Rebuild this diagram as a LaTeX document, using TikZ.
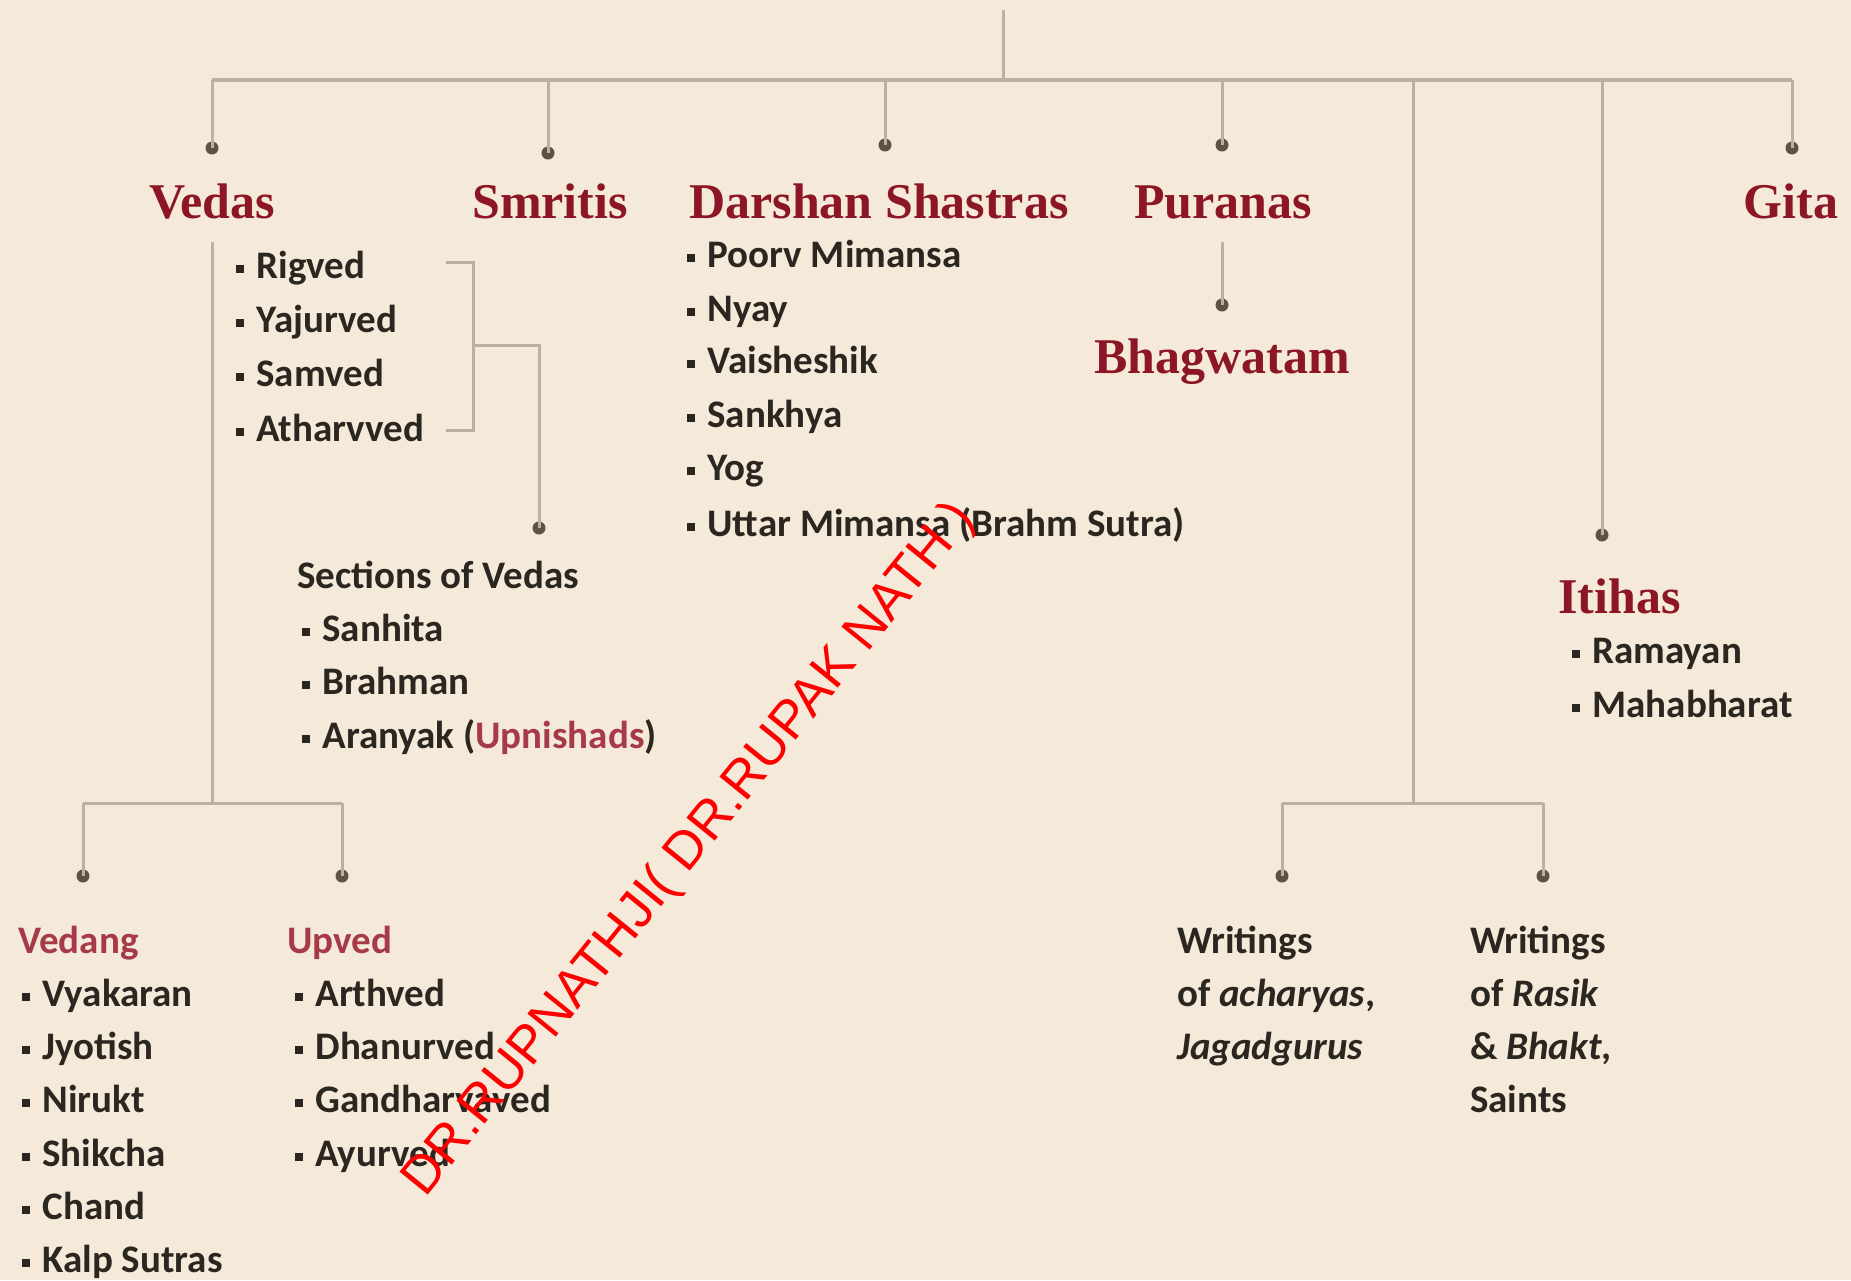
\documentclass[tikz,border=0pt]{standalone}
\usepackage{fontspec}
\setmainfont{Carlito}
\newfontfamily\headfont{Liberation Serif}
\newfontfamily\wmfont{Liberation Sans}
\definecolor{bg}{HTML}{F5EAD9}
\definecolor{ln}{HTML}{BDB09E}
\definecolor{dotc}{HTML}{5E5342}
\definecolor{head}{HTML}{8C1626}
\definecolor{subhead}{HTML}{A63A48}
\definecolor{body}{HTML}{2B2620}
\newcommand\bsq{\raisebox{0.14em}{\rule{0.2em}{0.2em}}\hspace{0.32em}}
\begin{document}
\begin{tikzpicture}[x=1pt,y=-1pt,
  conn/.style={draw=ln,line width=3pt},
  barline/.style={draw=ln,line width=4pt},
  jdot/.style={circle,fill=dotc,inner sep=0pt,minimum size=13pt},
  heading/.style={font=\headfont\bfseries\fontsize{50}{60}\selectfont,text=head,inner sep=0pt,anchor=base},
  item/.style={font=\bfseries\fontsize{39}{53}\selectfont,text=body,inner sep=0pt,anchor=base west},
  subh/.style={font=\bfseries\fontsize{39}{53}\selectfont,text=subhead,inner sep=0pt,anchor=base west}]
\fill[bg] (0,0) rectangle (1851,1280);
\useasboundingbox (0,0) rectangle (1851,1280);

% junctions
\coordinate (root) at (1003,10);
\coordinate (j0) at (1003,80);
\coordinate (vtop) at (212,242);
\coordinate (vj) at (212,803);
\coordinate (wj) at (1413,803);
\coordinate (ptop) at (1222,242);

% dots
\node[jdot] (dVedas) at (212,148) {};
\node[jdot] (dSmritis) at (548,153) {};
\node[jdot] (dDarshan) at (885,145) {};
\node[jdot] (dPuranas) at (1222,145) {};
\node[jdot] (dItihas) at (1602,535) {};
\node[jdot] (dGita) at (1792,148) {};
\node[jdot] (dBhag) at (1222,305) {};
\node[jdot] (dSect) at (539,528) {};
\node[jdot] (dVedang) at (83,876) {};
\node[jdot] (dUpved) at (342,876) {};
\node[jdot] (dAch) at (1282,876) {};
\node[jdot] (dRasik) at (1543,876) {};

% headings
\node[heading] (Vedas) at (212,218) {Vedas};
\node[heading] (Smritis) at (550,218) {Smritis};
\node[heading] (Darshan) at (879,218) {Darshan Shastras};
\node[heading] (Puranas) at (1223,218) {Puranas};
\node[heading] (Gita) at (1791,218) {Gita};
\node[heading] (Bhag) at (1222,373) {Bhagwatam};
\node[heading,anchor=base west] (Itihas) at (1558,613) {Itihas};

% connectors
\draw[conn] (root) -- (j0);
\draw[barline] (dVedas |- j0) -- (dGita |- j0);
\foreach \d in {dVedas,dSmritis,dDarshan,dPuranas,dItihas,dGita}{
  \draw[conn] (\d |- j0) -- (\d.center);
}
\draw[conn] (wj |- j0) -- (wj);
\draw[conn] (ptop) -- (dBhag.center);
\draw[conn] (vtop) -- (vj);
\draw[conn] (dVedang |- vj) -- (dUpved |- vj);
\draw[conn] (dVedang |- vj) -- (dVedang.center);
\draw[conn] (dUpved |- vj) -- (dUpved.center);
\draw[conn] (dAch |- wj) -- (dRasik |- wj);
\draw[conn] (dAch |- wj) -- (dAch.center);
\draw[conn] (dRasik |- wj) -- (dRasik.center);

% Vedas list
\node[item] (rig) at (236,278) {\bsq Rigved};
\node[item] (yaj) at (236,332) {\bsq Yajurved};
\node[item] (sam) at (236,386) {\bsq Samved};
\node[item] (ath) at (236,441) {\bsq Atharvved};
\coordinate (bt) at (473,262);
\coordinate (bb) at (473,430);
\coordinate (bm) at (473,345);
\draw[conn] (446,262) -- (bt) -- (bb) -- (446,430);
\draw[conn] (bm) -- (dSect |- bm) -- (dSect.center);

% Sections of Vedas
\node[item] (sect) at (297,588) {Sections of Vedas};
\node[item] (san) at (302,641) {\bsq Sanhita};
\node[item] (bra) at (302,694) {\bsq Brahman};
\node[item] (ara) at (302,748) {\bsq Aranyak (\textcolor{subhead}{Upnishads})};

% Darshan list
\node[item] (dar1) at (687,267) {\bsq Poorv Mimansa};
\node[item] (dar2) at (687,321) {\bsq Nyay};
\node[item] (dar3) at (687,373) {\bsq Vaisheshik};
\node[item] (dar4) at (687,427) {\bsq Sankhya};
\node[item] (dar5) at (687,480) {\bsq Yog};
\node[item] (dar6) at (687,536) {\bsq Uttar Mimansa (Brahm Sutra)};

% Itihas list
\node[item] (ram) at (1572,663) {\bsq Ramayan};
\node[item] (mah) at (1572,717) {\bsq Mahabharat};

% Vedang / Upved
\node[subh] (Vedang) at (18,953) {Vedang};
\node[subh] (Upved) at (287,953) {Upved};
\node[item] (v1) at (22,1006) {\bsq Vyakaran};
\node[item] (v2) at (22,1059) {\bsq Jyotish};
\node[item] (v3) at (22,1112) {\bsq Nirukt};
\node[item] (v4) at (22,1166) {\bsq Shikcha};
\node[item] (v5) at (22,1219) {\bsq Chand};
\node[item] (v6) at (22,1272) {\bsq Kalp Sutras};
\node[item] (u1) at (295,1006) {\bsq Arthved};
\node[item] (u2) at (295,1059) {\bsq Dhanurved};
\node[item] (u3) at (295,1112) {\bsq Gandharvaved};
\node[item] (u4) at (295,1166) {\bsq Ayurved};

% Writings
\node[item] (w1a) at (1177,953) {Writings};
\node[item] (w1b) at (1177,1006) {of \textit{acharyas},};
\node[item] (w1c) at (1177,1059) {\textit{Jagadgurus}};
\node[item] (w2a) at (1470,953) {Writings};
\node[item] (w2b) at (1470,1006) {of \textit{Rasik}};
\node[item] (w2c) at (1470,1059) {\& \textit{Bhakt},};
\node[item] (w2d) at (1470,1112) {Saints};

% watermark
\node[rotate=51,text=red,inner sep=0pt,font=\wmfont\fontsize{53}{60}\selectfont] (wm) at (690,850) {DR.RUPNATHJI( DR.RUPAK NATH )};
\end{tikzpicture}
\end{document}
